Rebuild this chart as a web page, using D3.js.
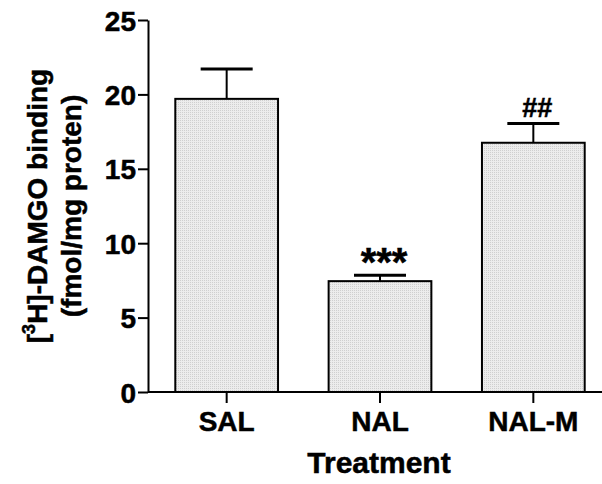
<!DOCTYPE html>
<html lang="en">
<head>
<meta charset="utf-8">
<title>DAMGO binding</title>
<script src="https://cdn.jsdelivr.net/npm/d3@7"></script>
<style>
body { margin: 0; background: #fff; }
svg text { font-family: Arial, "Liberation Sans", sans-serif; font-weight: bold; fill: #000; stroke: #000; stroke-width: 0.5px; }
</style>
</head>
<body>
<script>
// data
var groups = ["SAL", "NAL", "NAL-M"];
var means = [19.7, 7.45, 16.75];
var sems = [2.0, 0.4, 1.3];
var marks = ["", "***", "##"];
var yTicks = [0, 5, 10, 15, 20, 25];

var w = 602, h = 484;

var svg = d3.select("body").append("svg")
  .attr("width", w)
  .attr("height", h);

// dotted grey fill like the original
var defs = svg.append("defs");
var pat = defs.append("pattern")
  .attr("id", "dots")
  .attr("width", 2)
  .attr("height", 2)
  .attr("patternUnits", "userSpaceOnUse");
pat.append("rect").attr("width", 2).attr("height", 2).attr("fill", "#ececec");
pat.append("rect").attr("width", 1).attr("height", 1).attr("fill", "#cfcfcf");

var y = d3.scaleLinear().domain([0, 25]).range([392, 20]);
var x = d3.scaleBand().domain(groups).range([150, 610])
  .paddingInner(0.33).paddingOuter(0.165);

// bars
svg.selectAll("rect.bar")
  .data(means)
  .enter()
  .append("rect")
  .attr("class", "bar")
  .attr("x", function(d, i) { return x(groups[i]); })
  .attr("y", function(d) { return y(d); })
  .attr("width", x.bandwidth())
  .attr("height", function(d) { return y(0) - y(d); })
  .attr("fill", "url(#dots)")
  .attr("stroke", "#000")
  .attr("stroke-width", 2);

// error bars (upward only)
var cx = function(i) { return x(groups[i]) + x.bandwidth() / 2; };
svg.selectAll("line.err")
  .data(means)
  .enter()
  .append("line")
  .attr("class", "err")
  .attr("x1", function(d, i) { return cx(i); })
  .attr("x2", function(d, i) { return cx(i); })
  .attr("y1", function(d) { return y(d); })
  .attr("y2", function(d, i) { return y(d + sems[i]); })
  .attr("stroke", "#000")
  .attr("stroke-width", 2);
svg.selectAll("line.cap")
  .data(means)
  .enter()
  .append("line")
  .attr("class", "cap")
  .attr("x1", function(d, i) { return cx(i) - 26; })
  .attr("x2", function(d, i) { return cx(i) + 26; })
  .attr("y1", function(d, i) { return y(d + sems[i]); })
  .attr("y2", function(d, i) { return y(d + sems[i]); })
  .attr("stroke", "#000")
  .attr("stroke-width", 3);

// significance marks (asterisks need a bigger size to match)
svg.selectAll("text.mark")
  .data(marks)
  .enter()
  .append("text")
  .attr("class", "mark")
  .attr("text-anchor", "middle")
  .attr("x", function(d, i) { return cx(i) + 4; })
  .attr("y", function(d, i) {
    var top = y(means[i] + sems[i]);
    return d === "***" ? top + 1 : top - 6;
  })
  .attr("font-size", function(d) { return d === "***" ? "40px" : "27px"; })
  .text(function(d) { return d; });

// axes
var yAxis = d3.axisLeft(y).tickValues(yTicks).tickSize(10).tickSizeOuter(0);
var gy = svg.append("g").attr("transform", "translate(148,0)").call(yAxis);
gy.select(".domain").attr("stroke-width", 2);
gy.selectAll(".tick line").attr("stroke-width", 2);
gy.selectAll(".tick text")
  .attr("font-size", "28px")
  .attr("x", -12)
  .attr("dy", "0.36em");

svg.append("line")
  .attr("x1", 148).attr("x2", w)
  .attr("y1", y(0)).attr("y2", y(0))
  .attr("stroke", "#000").attr("stroke-width", 2);

var xAxis = d3.axisBottom(x).tickSize(11).tickSizeOuter(0);
var gx = svg.append("g").attr("transform", "translate(0," + y(0) + ")").call(xAxis);
gx.select(".domain").remove();
gx.selectAll(".tick line").attr("stroke-width", 2);
gx.selectAll(".tick text")
  .attr("font-size", "28px")
  .attr("y", 39)
  .attr("dy", 0);

// axis titles
svg.append("text")
  .attr("x", 379)
  .attr("y", 473)
  .attr("text-anchor", "middle")
  .attr("font-size", "30px")
  .text("Treatment");

var yl = svg.append("text")
  .attr("transform", "translate(47,206) rotate(-90)")
  .attr("text-anchor", "middle")
  .attr("font-size", "28px");
yl.append("tspan").text("[");
yl.append("tspan").attr("font-size", "18px").attr("dy", -12).text("3");
yl.append("tspan").attr("dy", 12).text("H]-DAMGO binding");

svg.append("text")
  .attr("transform", "translate(81,206) rotate(-90)")
  .attr("text-anchor", "middle")
  .attr("font-size", "28px")
  .text("(fmol/mg proten)");
</script>
</body>
</html>
